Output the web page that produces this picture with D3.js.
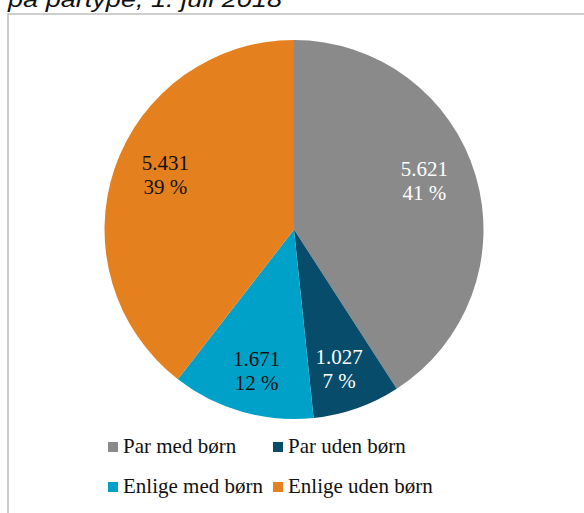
<!DOCTYPE html>
<html>
<head>
<meta charset="utf-8">
<script src="https://cdn.jsdelivr.net/npm/d3@7"></script>
<style>
  html, body { margin: 0; padding: 0; background: #fff; overflow: hidden; }
  .serif { font-family: "Liberation Serif", "DejaVu Serif", "Times New Roman", serif; }
</style>
</head>
<body>
<svg id="chart"></svg>
<script>
// data
const categories = ["Par med børn", "Par uden børn", "Enlige med børn", "Enlige uden børn"];
const values = [5621, 1027, 1671, 5431];
const valueLabels = ["5.621", "1.027", "1.671", "5.431"];
const pctLabels = ["41 %", "7 %", "12 %", "39 %"];
const colors = ["#8a8a8a", "#074c6b", "#00a1c8", "#e5801f"];
const labelColors = ["#ffffff", "#ffffff", "#111111", "#111111"];
const title = "på partype, 1. juli 2018";

const w = 584, h = 513;
const cx = 294, cy = 229.5, radius = 189.5;

const svg = d3.select("#chart").attr("width", w).attr("height", h);

// title (cut off at top, as in the original)
svg.append("text")
  .attr("x", 8).attr("y", 7)
  .attr("textLength", 274)
  .attr("lengthAdjust", "spacingAndGlyphs")
  .attr("font-family", "Liberation Sans, Arial, sans-serif")
  .attr("font-style", "italic")
  .attr("font-size", 22)
  .attr("fill", "#111")
  .text(title);

// chart area border (top and left only visible)
svg.append("path")
  .attr("d", `M8,${h} L8,14 L${w},14`)
  .attr("fill", "none")
  .attr("stroke", "#bfbfbf")
  .attr("stroke-width", 1.6);

// pie
const pie = d3.pie().sort(null).value(d => d)(values);
const arc = d3.arc().innerRadius(0).outerRadius(radius);
const labelArc = d3.arc().innerRadius(radius * 0.74).outerRadius(radius * 0.74);

const g = svg.append("g").attr("transform", `translate(${cx},${cy})`);

g.selectAll("path.slice")
  .data(pie)
  .join("path")
    .attr("class", "slice")
    .attr("d", arc)
    .attr("fill", (d, i) => colors[i]);

// labels: nudged away from the horizontal middle, like the original
const lbl = g.selectAll("text.lbl")
  .data(pie)
  .join("text")
    .attr("class", "lbl serif")
    .attr("transform", d => {
      const [x, y] = labelArc.centroid(d);
      return `translate(${x * 0.97},${y + Math.sign(y) * 8})`;
    })
    .attr("text-anchor", "middle")
    .attr("font-size", 21)
    .attr("fill", (d, i) => labelColors[i]);

lbl.append("tspan").attr("x", 0).attr("y", -6).text((d, i) => valueLabels[i]);
lbl.append("tspan").attr("x", 0).attr("y", 18).text((d, i) => pctLabels[i]);

// legend: two rows of two
const legendX = d3.scaleOrdinal().domain([0, 1]).range([108, 273]);
const legendY = d3.scaleOrdinal().domain([0, 1]).range([453, 493]);

const leg = svg.selectAll("g.leg")
  .data(categories)
  .join("g")
    .attr("class", "leg")
    .attr("transform", (d, i) => `translate(${legendX(i % 2)},${legendY(Math.floor(i / 2))})`);

leg.append("rect")
  .attr("x", 0).attr("y", -11)
  .attr("width", 10).attr("height", 10)
  .attr("fill", (d, i) => colors[i]);

leg.append("text")
  .attr("class", "serif")
  .attr("x", 15).attr("y", 0)
  .attr("font-size", 21)
  .attr("fill", "#111")
  .text(d => d);
</script>
</body>
</html>
